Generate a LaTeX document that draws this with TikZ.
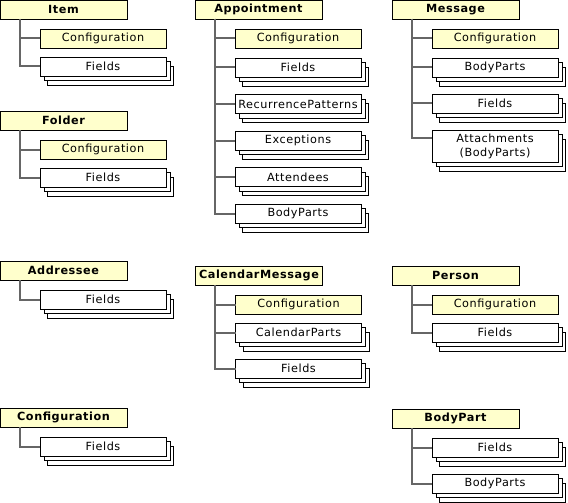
\documentclass[tikz,border=0pt]{standalone}
\usepackage{fontspec}
\setmainfont{DejaVu Sans}[LetterSpace=5]
\usetikzlibrary{positioning,calc,shadows}

\definecolor{boxyellow}{HTML}{FFFFCC}
\definecolor{trunkgray}{HTML}{666666}

\begin{document}
\begin{tikzpicture}[x=1pt, y=-1pt,
    hdr/.style={rectangle, draw, fill=boxyellow, minimum width=127pt, minimum height=19pt, inner sep=0pt, outer sep=0pt, font=\fontsize{11.25}{14}\selectfont\bfseries},
    cfg/.style={rectangle, draw, fill=boxyellow, minimum width=126pt, minimum height=19pt, inner sep=0pt, outer sep=0pt, align=center, font=\fontsize{11.25}{14}\selectfont},
    coll/.style={cfg, fill=white, double copy shadow={shadow xshift=3.75pt, shadow yshift=-4.5pt}},
    trunk/.style={draw=trunkgray, line width=2pt}
]
    \useasboundingbox (0,0) rectangle (568,503);

    % left column
    \node[hdr] (item) at (63.5,9.5) {Item};
    \node[cfg, below=10pt of item, xshift=39.5pt] (itemcfg) {Configuration};
    \node[coll, below=9pt of itemcfg] (itemfld) {Fields};

    \node[hdr] (folder) at (63.5,120.5) {Folder};
    \node[cfg, below=10pt of folder, xshift=39.5pt] (foldercfg) {Configuration};
    \node[coll, below=9pt of foldercfg] (folderfld) {Fields};

    \node[hdr] (addr) at (63.5,270.5) {Addressee};
    \node[coll, below=10pt of addr, xshift=39.5pt] (addrfld) {Fields};

    \node[hdr] (config) at (63.5,417.5) {Configuration};
    \node[coll, below=10pt of config, xshift=39.5pt] (configfld) {Fields};

    % middle column
    \node[hdr] (appt) at (258.5,9.5) {Appointment};
    \node[cfg, below=10pt of appt, xshift=39.5pt] (apptcfg) {Configuration};
    \node[coll, below=10pt of apptcfg] (apptfld) {Fields};
    \node[coll, below=17.5pt of apptfld] (apptrec) {RecurrencePatterns};
    \node[coll, below=17.5pt of apptrec] (apptexc) {Exceptions};
    \node[coll, below=17.5pt of apptexc] (apptatt) {Attendees};
    \node[coll, below=17.5pt of apptatt] (apptbody) {BodyParts};

    \node[hdr] (calmsg) at (259,275.5) {CalendarMessage};
    \node[cfg, below=10pt of calmsg, xshift=39.5pt] (calmsgcfg) {Configuration};
    \node[coll, below=9pt of calmsgcfg] (calmsgparts) {CalendarParts};
    \node[coll, below=17pt of calmsgparts] (calmsgfld) {Fields};

    % right column
    \node[hdr] (msg) at (455.5,9.5) {Message};
    \node[cfg, below=10pt of msg, xshift=39.5pt] (msgcfg) {Configuration};
    \node[coll, below=10pt of msgcfg] (msgbody) {BodyParts};
    \node[coll, below=17pt of msgbody] (msgfld) {Fields};
    \node[coll, below=17pt of msgfld, minimum height=32pt] (msgatt) {Attachments\\(BodyParts)};

    \node[hdr] (person) at (455.5,275.5) {Person};
    \node[cfg, below=10pt of person, xshift=39.5pt] (personcfg) {Configuration};
    \node[coll, below=9pt of personcfg] (personfld) {Fields};

    \node[hdr] (bpart) at (455.5,418.5) {BodyPart};
    \node[coll, below=10pt of bpart, xshift=39.5pt] (bpartfld) {Fields};
    \node[coll, below=17pt of bpartfld] (bpartbody) {BodyParts};

    % trunk lines
    \foreach \c in {itemcfg,itemfld}
        \draw[trunk] ($(item.south west)+(19.5,0)$) |- (\c.west);
    \foreach \c in {foldercfg,folderfld}
        \draw[trunk] ($(folder.south west)+(19.5,0)$) |- (\c.west);
    \draw[trunk] ($(addr.south west)+(19.5,0)$) |- (addrfld.west);
    \draw[trunk] ($(config.south west)+(19.5,0)$) |- (configfld.west);
    \foreach \c in {apptcfg,apptfld,apptrec,apptexc,apptatt,apptbody}
        \draw[trunk] ($(appt.south west)+(19.5,0)$) |- (\c.west);
    \foreach \c in {calmsgcfg,calmsgparts,calmsgfld}
        \draw[trunk] ($(calmsg.south west)+(19.5,0)$) |- (\c.west);
    \foreach \c in {msgcfg,msgbody,msgfld}
        \draw[trunk] ($(msg.south west)+(19.5,0)$) |- (\c.west);
    \draw[trunk] ($(msg.south west)+(19.5,0)$) |- ([yshift=-8pt]msgatt.north west);
    \foreach \c in {personcfg,personfld}
        \draw[trunk] ($(person.south west)+(19.5,0)$) |- (\c.west);
    \foreach \c in {bpartfld,bpartbody}
        \draw[trunk] ($(bpart.south west)+(19.5,0)$) |- (\c.west);
\end{tikzpicture}
\end{document}
